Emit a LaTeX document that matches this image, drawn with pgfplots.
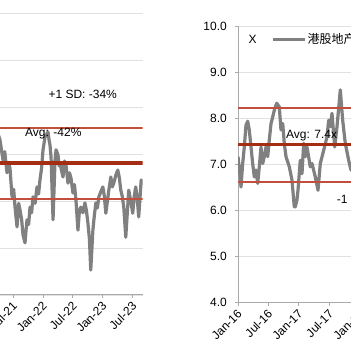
\documentclass[border=0pt]{standalone}
\usepackage{pgfplots}
\pgfplotsset{compat=1.18}
\usepackage{fontspec}
\setmainfont{Liberation Sans}
\newfontfamily\cjk{Noto Sans CJK SC}
\definecolor{serie}{RGB}{128,128,128}
\definecolor{sdred}{RGB}{192,80,60}
\definecolor{avgred}{RGB}{165,45,20}
\definecolor{gridc}{RGB}{225,225,225}
\definecolor{axc}{RGB}{170,170,170}
\pgfplotsset{
  mystyle/.style={
    scale only axis,
    anchor=south west,
    axis x line*=bottom,
    axis y line*=left,
    axis line style={axc, line width=1pt},
    tick style={axc, line width=1pt},
    tick align=outside,
    major tick length=3pt,
    ymajorgrids,
    grid style={gridc, line width=0.6pt},
    tick label style={font=\fontsize{12}{14}\selectfont, text=black},
    xticklabel style={rotate=45, anchor=north east, inner sep=1pt, xshift=-2pt},
    yticklabel style={xshift=-4pt},
    /pgf/number format/assume math mode=true,
    clip=true,
  }
}
\begin{document}
\fontsize{12}{14}\selectfont
\begin{tikzpicture}[x=1pt,y=1pt]
\useasboundingbox (0,0) rectangle (351,351);
\clip (0,0) rectangle (351,351);
% ---------------- left panel ----------------
\begin{axis}[mystyle,
  at={(-16.7pt,56pt)}, width=159.4pt, height=282pt,
  xmin=60, xmax=92, ymin=-70, ymax=-10,
  xtick={66,72,78,84,90},
  xticklabels={Jul-21,Jan-22,Jul-22,Jan-23,Jul-23},
  ytick={-70,-60,-50,-40,-30,-20,-10},
  yticklabels={},
]
\addplot[serie, line width=3.2pt, line join=round] coordinates {
(60.0,-37.5) (60.3,-39.2) (60.8,-35.0) (61.3,-36.0) (61.8,-40.0) (62.4,-38.1) (62.9,-35.5) (63.35,-37.0)
(63.7,-39.5) (63.95,-41.3) (64.3,-39.5) (64.76,-44.0) (65.1,-42.0) (65.36,-43.0) (65.76,-49.1) (66.1,-47.5) (66.37,-51.3) (66.77,-55.5)
(67.1,-50.5) (67.37,-51.9) (67.7,-54.0) (67.97,-57.2) (68.37,-58.9) (68.6,-56.0) (68.78,-54.0) (69.1,-55.0) (69.38,-51.3) (69.7,-52.5) (69.98,-49.1) (70.4,-50.5) (70.78,-47.0)
(71.1,-48.5) (71.38,-45.5) (71.7,-43.0) (71.99,-39.1) (72.39,-36.4) (72.99,-35.3) (73.2,-37.0) (73.39,-38.1) (73.6,-40.6) (74.0,-54.0)
(74.4,-41.3) (74.6,-39.1) (75.0,-40.2) (75.2,-42.5) (75.4,-41.9) (75.7,-43.5) (76.0,-44.9) (76.3,-41.5) (76.6,-42.3) (77.0,-46.2)
(77.3,-44.0) (77.6,-45.1) (78.0,-48.3) (78.3,-46.5) (78.6,-49.8) (79.0,-56.2) (79.3,-52.0) (79.6,-51.3) (80.0,-52.5) (80.4,-50.4) (80.7,-52.0) (81.0,-54.7)
(81.3,-58.0) (81.57,-64.7) (82.0,-56.2) (82.3,-53.0) (82.6,-50.4) (82.9,-51.5) (83.2,-49.1) (83.6,-48.0) (84.0,-47.0) (84.3,-49.0) (84.6,-52.6) (85.2,-47.7)
(85.6,-44.9) (85.9,-47.0) (86.2,-46.2) (86.6,-44.5) (87.0,-43.4) (87.3,-45.0) (87.6,-47.7) (87.9,-49.0) (88.2,-51.3) (88.6,-57.7) (89.2,-47.7)
(89.6,-50.0) (90.0,-52.6) (90.3,-49.0) (90.6,-47.0) (90.9,-49.5) (91.2,-53.4) (91.7,-45.5) (91.9,-46.6)
};
\addplot[sdred, line width=1.5pt, forget plot] coordinates {(60,-34.5) (92,-34.5)};
\addplot[avgred, line width=3.5pt, forget plot] coordinates {(60,-41.9) (92,-41.9)};
\addplot[sdred, line width=1.5pt, forget plot] coordinates {(60,-49.6) (92,-49.6)};
\node[anchor=west, inner sep=0pt] at (axis cs:73.05,-27.4) {+1 SD: -34\%};
\node[anchor=west, inner sep=0pt] at (axis cs:68.37,-35.7) {Avg: -42\%};
\end{axis}
% ---------------- right panel ----------------
\begin{axis}[mystyle,
  at={(238pt,48.3pt)}, width=477.5pt, height=276.4pt,
  xmin=0, xmax=94, ymin=4, ymax=10,
  xtick={0,6,12,18,24},
  xticklabels={Jan-16,Jul-16,Jan-17,Jul-17,Jan-18},
  ytick={4,5,6,7,8,9,10},
  yticklabel style={/pgf/number format/fixed, /pgf/number format/fixed zerofill, /pgf/number format/precision=1},
  legend style={draw=none, fill=none, inner sep=0pt, outer sep=0pt,
    at={(axis description cs:0.0706,0.953)}, anchor=west,
    nodes={inner sep=1pt, font=\fontsize{12}{14}\selectfont}},
  legend image code/.code={\draw[#1] (0pt,0pt) -- (31.6pt,0pt);},
]
\addplot[serie, line width=3.2pt, line join=round] coordinates {
(0.0,7.17) (0.3,6.88) (0.59,6.51) (0.89,6.98) (1.24,7.38) (1.57,7.85) (1.91,7.94) (2.22,7.75)
(2.56,7.38) (2.89,7.02) (3.21,6.73) (3.54,6.88) (3.88,6.59) (4.19,6.95) (4.53,7.38) (4.86,7.02)
(5.18,7.17) (5.51,7.38) (5.85,7.17) (6.16,7.53) (6.50,7.89) (6.83,8.03) (7.15,8.18) (7.62,8.33)
(8.13,8.25) (8.46,7.75) (8.80,7.89) (9.11,7.46) (9.45,7.17) (10.1,6.95) (10.63,6.66) (11.08,6.08)
(11.28,6.08) (11.6,6.22) (11.81,6.44) (12.26,7.09) (12.6,6.80) (12.93,7.46) (13.25,7.17) (13.58,7.38)
(14.23,6.95) (14.57,7.02) (15.22,6.73) (15.75,6.44) (16.2,7.02) (16.87,7.31) (17.52,7.60) (17.85,7.96)
(18.17,7.82) (18.5,8.11) (19.04,7.38) (19.49,7.82) (20.14,8.62) (20.61,7.96) (21.12,7.46) (21.79,7.09)
(22.24,6.88) (23.0,7.00) (24.0,7.30)
};
\addlegendentry{\cjk 港股地产}
\addplot[sdred, line width=1.5pt, forget plot] coordinates {(0,8.23) (94,8.23)};
\addplot[avgred, line width=3.5pt, forget plot] coordinates {(0,7.43) (94,7.43)};
\addplot[sdred, line width=1.5pt, forget plot] coordinates {(0,6.62) (94,6.62)};
\node[anchor=west, inner sep=0pt] at (axis cs:9.45,7.62) {Avg: 7.4x};
\node[anchor=west, inner sep=0pt] at (axis cs:19.43,6.25) {-1 SD: 6.6x};
\node[inner sep=0pt] at (axis cs:2.89,9.72) {X};
\end{axis}
\end{tikzpicture}
\end{document}
